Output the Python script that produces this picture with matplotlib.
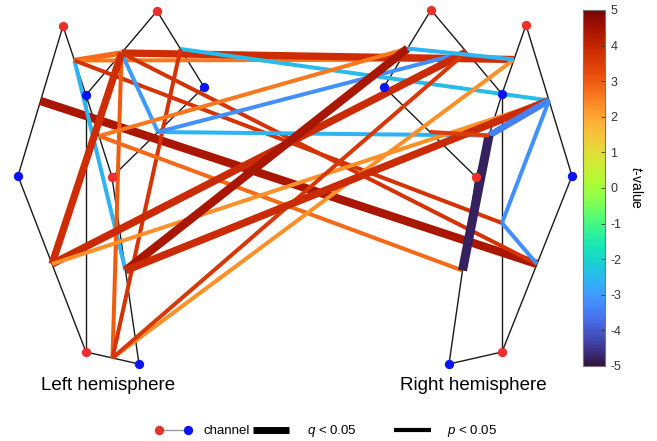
import matplotlib
matplotlib.use('Agg')
import matplotlib.pyplot as plt
import numpy as np
from matplotlib.colors import Normalize
from matplotlib.cm import ScalarMappable

plt.rcParams['font.family'] = ['Liberation Sans', 'DejaVu Sans']
plt.rcParams['mathtext.fontset'] = 'custom'
plt.rcParams['mathtext.rm'] = 'Liberation Sans'
plt.rcParams['mathtext.it'] = 'Liberation Sans:italic'

# optode layout (sources = red, detectors = blue)
src_x = [63, 157, 112, 86, 431, 526, 476, 502]
src_y = [26, 11, 177, 352, 10, 25, 177, 352]
det_x = [86, 204, 18, 139, 384, 502, 572, 449]
det_y = [95, 87, 176, 364, 87, 94, 176, 364]

# channels (source index, detector index), channel k = position k+1
ch_src = [0, 0, 1, 1, 2, 2, 3, 3, 3, 2, 4, 4, 5, 5, 6, 6, 6, 7, 7, 7]
ch_det = [2, 0, 0, 1, 0, 1, 2, 0, 3, 3, 4, 5, 5, 6, 4, 5, 7, 5, 7, 6]

# connections between channels (1-based), t-values, significance level
conn_a = [1, 2, 2, 2, 2, 3, 3, 3, 3, 3, 4, 4, 5, 5, 6, 6, 7, 7, 9, 9, 10, 10, 11, 16, 16, 14, 18, 15]
conn_b = [20, 3, 13, 10, 18, 13, 9, 6, 20, 7, 14, 9, 11, 17, 16, 12, 12, 14, 13, 12, 11, 14, 13, 14, 17, 18, 20, 16]
conn_t = [4.4, 2.8, 2.6, -2.6, 3.7, 3.8, 3.0, -3.0, 3.7, 3.8, -2.5, 3.7, 2.6, 2.8, -2.6, -3.2,
          3.9, 2.3, 2.3, 3.6, 4.4, 3.9, -2.6, -3.4, -4.8, -3.2, -3.2, 3.5]
conn_q = [1, 1, 0, 0, 0, 1, 0, 0, 0, 1, 0, 0, 0, 0, 0, 0,
          1, 0, 0, 0, 1, 1, 0, 1, 1, 0, 0, 0]

cbar_ticks = [5, 4, 3, 2, 1, 0, -1, -2, -3, -4, -5]

W, H = 657, 441
fig = plt.figure(figsize=(W / 100, H / 100), dpi=100)
ax = fig.add_axes([0, 0, 1, 1])
ax.set_xlim(0, W)
ax.set_ylim(H, 0)
ax.axis('off')

cmap = plt.get_cmap('turbo')
norm = Normalize(-5, 5)

sx = np.array(src_x, float); sy = np.array(src_y, float)
dx = np.array(det_x, float); dy = np.array(det_y, float)
cs = np.array(ch_src); cd = np.array(ch_det)
chx = (sx[cs] + dx[cd]) / 2
chy = (sy[cs] + dy[cd]) / 2

# channel lines
for s, d in zip(ch_src, ch_det):
    ax.plot([src_x[s], det_x[d]], [src_y[s], det_y[d]], color='#1a1a1a', lw=1.0, zorder=1)

# connections
for a, b, t, q in zip(conn_a, conn_b, conn_t, conn_q):
    lw = 1.3 * abs(t) + 0.3 if q else 2.9
    ax.plot([chx[a - 1], chx[b - 1]], [chy[a - 1], chy[b - 1]], color=cmap(norm(t)),
            lw=lw, solid_capstyle='butt', zorder=2)

ax.scatter(src_x, src_y, s=45, color='#ec2f2a', zorder=3, linewidths=0)
ax.scatter(det_x, det_y, s=45, color='#0a14f5', zorder=3, linewidths=0)

ax.text(108, 386, 'Left hemisphere', ha='center', va='center', fontsize=13.5)
ax.text(473, 386, 'Right hemisphere', ha='center', va='center', fontsize=13.5)

# legend
ax.plot([159, 188], [430, 430], color='#999999', lw=1.0, zorder=1)
ax.scatter([159], [430], s=45, color='#ec2f2a', zorder=3, linewidths=0)
ax.scatter([188], [430], s=45, color='#0a14f5', zorder=3, linewidths=0)
ax.text(203, 431, 'channel', ha='left', va='center', fontsize=9.5)
ax.plot([253, 289], [430, 430], color='black', lw=5, solid_capstyle='butt')
ax.text(307, 431, r'$q$ < 0.05', ha='left', va='center', fontsize=9.5)
ax.plot([394, 431], [430, 430], color='black', lw=3, solid_capstyle='butt')
ax.text(447, 431, r'$p$ < 0.05', ha='left', va='center', fontsize=9.5)

# colorbar
cax = fig.add_axes([583 / W, 1 - 366 / H, 22 / W, 356 / H])
sm = ScalarMappable(norm=norm, cmap=cmap)
cb = fig.colorbar(sm, cax=cax, ticks=cbar_ticks)
cb.outline.set_edgecolor('#777777')
cb.outline.set_linewidth(0.8)
cax.tick_params(direction='in', length=3, width=0.6, colors='#333333', labelsize=9, pad=4)
cax.set_yticklabels([str(v) for v in cbar_ticks])
fig.text(636 / W, 1 - 188 / H, r'$t$-value', rotation=270, ha='center', va='center', fontsize=10)

fig.savefig('out.png', dpi=100)
